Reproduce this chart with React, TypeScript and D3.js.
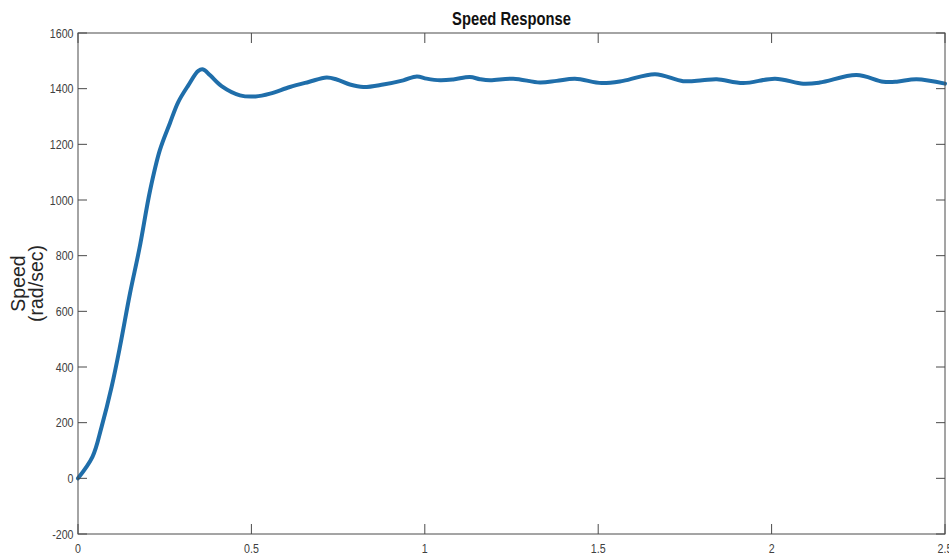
import React from "react";
import * as d3 from "d3";

const time = [0, 0.042, 0.068, 0.097, 0.121, 0.15, 0.177, 0.208, 0.236, 0.265, 0.289, 0.318, 0.347, 0.361, 0.381, 0.414, 0.467, 0.512, 0.554, 0.611, 0.665, 0.717, 0.746, 0.784, 0.823, 0.88, 0.938, 0.977, 1.005, 1.044, 1.082, 1.13, 1.159, 1.188, 1.255, 1.332, 1.38, 1.433, 1.51, 1.572, 1.664, 1.745, 1.8, 1.842, 1.918, 2.01, 2.091, 2.139, 2.245, 2.322, 2.361, 2.418, 2.5];
const speed = [0, 78, 185, 329, 473, 665, 825, 1035, 1179, 1276, 1352, 1412, 1464, 1469, 1448, 1409, 1376, 1372, 1382, 1406, 1424, 1440, 1433, 1415, 1406, 1415, 1430, 1444, 1436, 1430, 1433, 1442, 1434, 1430, 1436, 1422, 1428, 1436, 1420, 1428, 1452, 1427, 1430, 1434, 1420, 1436, 1418, 1422, 1449, 1425, 1425, 1434, 1418];

const xTicks = [0, 0.5, 1, 1.5, 2, 2.5];
const xTickLabels = ["0", "0.5", "1", "1.5", "2", "2.5"];
const yTicks = [-200, 0, 200, 400, 600, 800, 1000, 1200, 1400, 1600];
const yTickLabels = ["-200", "0", "200", "400", "600", "800", "1000", "1200", "1400", "1600"];
const title = "Speed Response";
const yLabelLines = ["Speed", "(rad/sec)"];

const FONT = "'Liberation Sans', Arial, sans-serif";

function NarrowText(props: {
  x: number;
  y: number;
  anchor: "start" | "middle" | "end";
  size: number;
  fill: string;
  weight?: string;
  children: React.ReactNode;
}) {
  return (
    <g transform={`translate(${props.x},${props.y}) scale(0.82,1)`}>
      <text
        x={0}
        y={0}
        textAnchor={props.anchor}
        fontFamily={FONT}
        fontSize={props.size}
        fontWeight={props.weight || "normal"}
        fill={props.fill}
      >
        {props.children}
      </text>
    </g>
  );
}

export default function App() {
  const W = 949, H = 555;
  const left = 78, right = 945, top = 33, bottom = 534;
  const x = d3.scaleLinear().domain([0, 2.5]).range([left, right]);
  const y = d3.scaleLinear().domain([-200, 1600]).range([bottom, top]);
  const pts = time.map((t, i) => [t, speed[i]] as [number, number]);
  const line = d3
    .line<[number, number]>()
    .x((d) => x(d[0]))
    .y((d) => y(d[1]))
    .curve(d3.curveCatmullRom.alpha(0.5));
  const axisColor = "#4a4a4a";
  const xTickLen = 10;
  const yTickLen = 9;
  return (
    <svg
      width={W}
      height={H}
      style={{ position: "fixed", left: 0, top: 0, background: "#fff" }}
    >
      <rect x={0} y={0} width={W} height={H} fill="#fff" />
      <path
        d={line(pts) || ""}
        fill="none"
        stroke="#1f6eaa"
        strokeWidth={4}
        strokeLinejoin="round"
        strokeLinecap="round"
      />
      <rect
        x={left}
        y={top}
        width={right - left}
        height={bottom - top}
        fill="none"
        stroke={axisColor}
        strokeWidth={1}
      />
      {xTicks.map((t, i) => (
        <g key={"xt" + i}>
          <line x1={x(t)} x2={x(t)} y1={bottom} y2={bottom - xTickLen} stroke={axisColor} />
          <line x1={x(t)} x2={x(t)} y1={top} y2={top + xTickLen} stroke={axisColor} />
          <NarrowText x={x(t)} y={552.5} anchor="middle" size={13} fill="#404040">
            {xTickLabels[i]}
          </NarrowText>
        </g>
      ))}
      {yTicks.map((v, i) => (
        <g key={"yt" + i}>
          <line x1={left} x2={left + yTickLen} y1={y(v)} y2={y(v)} stroke={axisColor} />
          <line x1={right} x2={right - yTickLen} y1={y(v)} y2={y(v)} stroke={axisColor} />
          <NarrowText x={73.5} y={y(v) + 4.6} anchor="end" size={13} fill="#404040">
            {yTickLabels[i]}
          </NarrowText>
        </g>
      ))}
      <NarrowText x={(left + right) / 2} y={25} anchor="middle" size={18} weight="bold" fill="#111">
        {title}
      </NarrowText>
      <g transform={`translate(0, ${(top + bottom) / 2}) rotate(-90)`}>
        <text x={0} y={25} textAnchor="middle" fontFamily={FONT} fontSize={19.5} fill="#262626">
          {yLabelLines[0]}
        </text>
        <text x={0} y={42.5} textAnchor="middle" fontFamily={FONT} fontSize={19.5} fill="#262626">
          {yLabelLines[1]}
        </text>
      </g>
    </svg>
  );
}
